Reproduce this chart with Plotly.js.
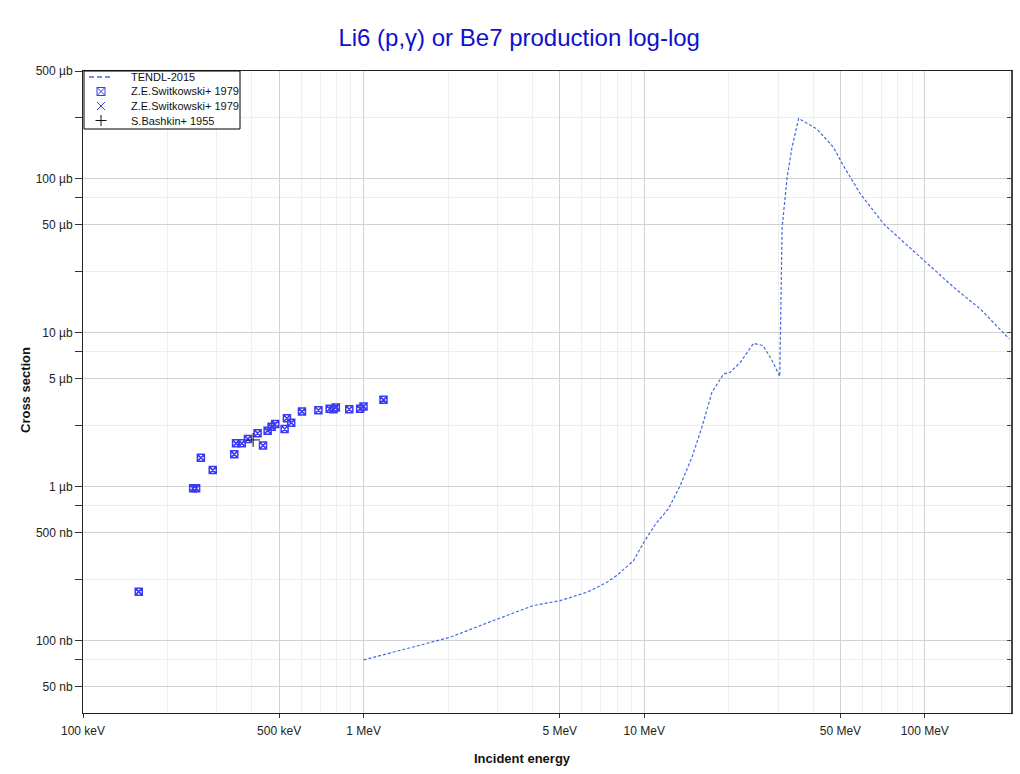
<!DOCTYPE html>
<html>
<head>
<meta charset="utf-8">
<script src="https://cdn.plot.ly/plotly-3.0.1.min.js"></script>
<style>
  html, body { margin: 0; padding: 0; background: #fff; }
  #chart { width: 1020px; height: 774px; }
</style>
</head>
<body>
<div id="chart"></div>
<script>
// TENDL-2015 evaluated cross section (energy in MeV, cross section in barns)
const tendlEnergy = [1.0, 1.387, 2.03, 2.90, 4.03, 5.02, 6.25, 7.36, 7.99, 9.16, 10.0, 11.0,
  12.21, 13.43, 14.79, 16.05, 17.43, 19.18, 20.26, 21.99, 24.53, 26.5, 28.5, 30.4,
  30.6, 30.8, 31.0, 32.3, 33.6, 35.5, 41.2, 44.8, 47.3, 50.9, 58.9, 71.6, 84.0,
  101.5, 126.7, 157.8, 200.0];
const tendlXs = [7.5e-8, 8.8e-8, 1.05e-7, 1.35e-7, 1.69e-7, 1.82e-7, 2.06e-7, 2.39e-7, 2.65e-7, 3.31e-7, 4.40e-7, 5.75e-7,
  7.20e-7, 1.015e-6, 1.55e-6, 2.43e-6, 4.10e-6, 5.39e-6, 5.53e-6, 6.41e-6, 8.52e-6, 8.24e-6, 6.64e-6, 5.2e-6,
  1.2e-5, 2.6e-5, 4.8e-5, 1.02e-4, 1.59e-4, 2.46e-4, 2.10e-4, 1.78e-4, 1.59e-4, 1.24e-4, 7.96e-5, 5.04e-5, 3.86e-5,
  2.83e-5, 1.97e-5, 1.42e-5, 9.1e-6];

// Z.E.Switkowski+ 1979 (first data set)
const swit1Energy = [0.158, 0.247, 0.253, 0.263, 0.290, 0.346, 0.351, 0.368, 0.387, 0.419, 0.438,
  0.455, 0.470, 0.484, 0.523, 0.533, 0.552, 0.603, 0.690, 0.757, 0.781, 0.796, 0.889, 0.972, 0.999, 1.177];
const swit1Xs = [2.08e-7, 9.75e-7, 9.75e-7, 1.54e-6, 1.28e-6, 1.62e-6, 1.91e-6, 1.91e-6, 2.04e-6, 2.22e-6, 1.85e-6,
  2.31e-6, 2.45e-6, 2.55e-6, 2.37e-6, 2.78e-6, 2.60e-6, 3.07e-6, 3.13e-6, 3.20e-6, 3.18e-6, 3.27e-6, 3.18e-6, 3.20e-6, 3.31e-6, 3.66e-6];

// Z.E.Switkowski+ 1979 (second data set)
const swit2Energy = [0.158, 0.346, 0.351, 0.387, 0.484, 0.552, 0.800, 1.0, 1.177];
const swit2Xs = [2.08e-7, 1.62e-6, 1.91e-6, 2.04e-6, 2.55e-6, 2.60e-6, 3.30e-6, 3.33e-6, 3.66e-6];

// S.Bashkin+ 1955
const bashEnergy = [0.404];
const bashXs = [2.01e-6];

// Legend entries
const legendLabels = ['TENDL-2015', 'Z.E.Switkowski+ 1979', 'Z.E.Switkowski+ 1979', 'S.Bashkin+ 1955'];

// Axis ticks
const xTickVals = [0.1, 0.5, 1, 5, 10, 50, 100];
const xTickText = ['100 keV', '500 keV', '1 MeV', '5 MeV', '10 MeV', '50 MeV', '100 MeV'];
const xMinorVals = [0.2, 0.3, 0.4, 0.6, 0.7, 0.8, 0.9, 2, 3, 4, 6, 7, 8, 9, 20, 30, 40, 60, 70, 80, 90, 200];
const yTickVals = [5e-4, 1e-4, 5e-5, 1e-5, 5e-6, 1e-6, 5e-7, 1e-7, 5e-8];
const yTickText = ['500 µb', '100 µb', '50 µb', '10 µb', '5 µb', '1 µb', '500 nb', '100 nb', '50 nb'];
const yMinorVals = [2.5e-4, 7.5e-5, 2.5e-5, 7.5e-6, 2.5e-6, 7.5e-7, 2.5e-7, 7.5e-8];

const xRange = [-1, 2.307];
const yRange = [Math.log10(5e-4) - 4.169, Math.log10(5e-4)];

const W = 1020, H = 774;
const M = { l: 83, r: 9, t: 71, b: 61 };
const plotW = W - M.l - M.r, plotH = H - M.t - M.b;
// pixel position -> paper fraction
const px = v => (v - M.l) / plotW;
const py = v => (H - M.b - v) / plotH;

const markerBlue = 'rgb(58,58,245)';
const lineBlue = 'rgb(65,105,225)';
const font = 'Liberation Sans, Arial, sans-serif';

const traces = [
  {
    x: tendlEnergy, y: tendlXs, type: 'scatter', mode: 'lines', name: legendLabels[0],
    line: { color: lineBlue, width: 1.2, dash: '3px,2px' }
  },
  {
    x: swit1Energy, y: swit1Xs, type: 'scatter', mode: 'markers', name: legendLabels[1],
    marker: { symbol: 'square-x-open', size: 7, color: markerBlue, line: { width: 1.5, color: markerBlue } }
  },
  {
    x: swit2Energy, y: swit2Xs, type: 'scatter', mode: 'markers', name: legendLabels[2],
    marker: { symbol: 'x-thin-open', size: 7, color: markerBlue, line: { width: 1, color: markerBlue } }
  },
  {
    x: bashEnergy, y: bashXs, type: 'scatter', mode: 'markers', name: legendLabels[3],
    marker: { symbol: 'cross-thin-open', size: 10, color: '#111', line: { width: 1, color: '#111' } }
  },
  {
    // carries the right-hand frame axis
    x: [], y: [], type: 'scatter', mode: 'markers', yaxis: 'y2', showlegend: false, hoverinfo: 'skip'
  }
];

// Legend box drawn as shapes + annotations for compact row spacing
const lgLeft = 84, lgRight = 240, lgTop = 71, lgBottom = 129;
const rowY = [77, 91.5, 106, 120.5];
const glyphX = 101, textX = 129, g = 4;
const shapes = [];
const seg = (x0, y0, x1, y1, color, width, dash) => shapes.push({
  type: 'line', xref: 'paper', yref: 'paper', layer: 'above',
  x0: px(x0), y0: py(y0), x1: px(x1), y1: py(y1),
  line: { color, width, dash: dash || 'solid' }
});
shapes.push({
  type: 'rect', xref: 'paper', yref: 'paper', layer: 'above',
  x0: px(lgLeft), x1: px(lgRight), y0: py(lgBottom), y1: py(lgTop),
  fillcolor: '#fff', line: { color: '#000', width: 1 }
});
seg(89, rowY[0], 113, rowY[0], lineBlue, 1.5, '5px,3px');
shapes.push({
  type: 'rect', xref: 'paper', yref: 'paper', layer: 'above',
  x0: px(glyphX - g), x1: px(glyphX + g), y0: py(rowY[1] + g), y1: py(rowY[1] - g),
  line: { color: markerBlue, width: 1 }
});
seg(glyphX - g, rowY[1] - g, glyphX + g, rowY[1] + g, markerBlue, 1);
seg(glyphX - g, rowY[1] + g, glyphX + g, rowY[1] - g, markerBlue, 1);
seg(glyphX - g, rowY[2] - g, glyphX + g, rowY[2] + g, markerBlue, 1);
seg(glyphX - g, rowY[2] + g, glyphX + g, rowY[2] - g, markerBlue, 1);
seg(glyphX - 5.5, rowY[3], glyphX + 5.5, rowY[3], '#111', 1);
seg(glyphX, rowY[3] - 5.5, glyphX, rowY[3] + 5.5, '#111', 1);

const annotations = legendLabels.map((t, i) => ({
  text: t, xref: 'paper', yref: 'paper', x: px(textX), y: py(rowY[i]),
  xanchor: 'left', yanchor: 'middle', showarrow: false,
  font: { family: font, size: 11, color: '#111' }
}));
annotations.push({
  text: '<b>Incident energy</b>', xref: 'paper', yref: 'paper', x: px(522), y: py(758),
  xanchor: 'center', yanchor: 'middle', showarrow: false,
  font: { family: font, size: 13, color: '#111' }
});
annotations.push({
  text: '<b>Cross section</b>', xref: 'paper', yref: 'paper', x: px(25), y: py(390),
  xanchor: 'center', yanchor: 'middle', textangle: -90, showarrow: false,
  font: { family: font, size: 13, color: '#111' }
});

const layout = {
  width: W, height: H,
  paper_bgcolor: '#fff', plot_bgcolor: '#fff',
  margin: M,
  font: { family: font, size: 12, color: '#222' },
  title: {
    text: 'Li6 (p,γ) or Be7 production log-log',
    x: 0.509, xanchor: 'center', y: 0.952, yanchor: 'middle',
    font: { family: font, size: 24, color: '#1010cc' }
  },
  showlegend: false,
  shapes, annotations,
  xaxis: {
    type: 'log', range: xRange,
    tickmode: 'array', tickvals: xTickVals, ticktext: xTickText,
    ticks: 'outside', ticklen: 4, tickcolor: '#333', ticklabelstandoff: 3,
    showgrid: true, gridcolor: '#d2d2d2', gridwidth: 1,
    minor: { tickmode: 'array', tickvals: xMinorVals, showgrid: true, gridcolor: '#eeeeee', gridwidth: 1, ticks: '' },
    showline: true, linecolor: '#222', linewidth: 1, mirror: true,
    zeroline: false,
    tickfont: { family: font, size: 12, color: '#222' }
  },
  yaxis: {
    type: 'log', range: yRange,
    tickmode: 'array', tickvals: yTickVals, ticktext: yTickText,
    ticks: 'outside', ticklen: 7, tickcolor: '#333',
    showgrid: true, gridcolor: '#d2d2d2', gridwidth: 1,
    minor: { tickmode: 'array', tickvals: yMinorVals, showgrid: true, gridcolor: '#eeeeee', gridwidth: 1, ticks: 'outside', ticklen: 7, tickcolor: '#333' },
    showline: true, linecolor: '#222', linewidth: 1,
    zeroline: false,
    tickfont: { family: font, size: 12, color: '#222' }
  },
  yaxis2: {
    type: 'log', range: yRange, overlaying: 'y', side: 'right',
    tickmode: 'array', tickvals: yTickVals, showticklabels: false,
    ticks: 'inside', ticklen: 4, tickcolor: '#444',
    minor: { tickmode: 'array', tickvals: yMinorVals, ticks: 'inside', ticklen: 4, tickcolor: '#444', showgrid: false },
    showgrid: false, zeroline: false,
    showline: true, linecolor: '#444', linewidth: 2
  }
};

Plotly.newPlot('chart', traces, layout, { displayModeBar: false, staticPlot: true });
</script>
</body>
</html>
